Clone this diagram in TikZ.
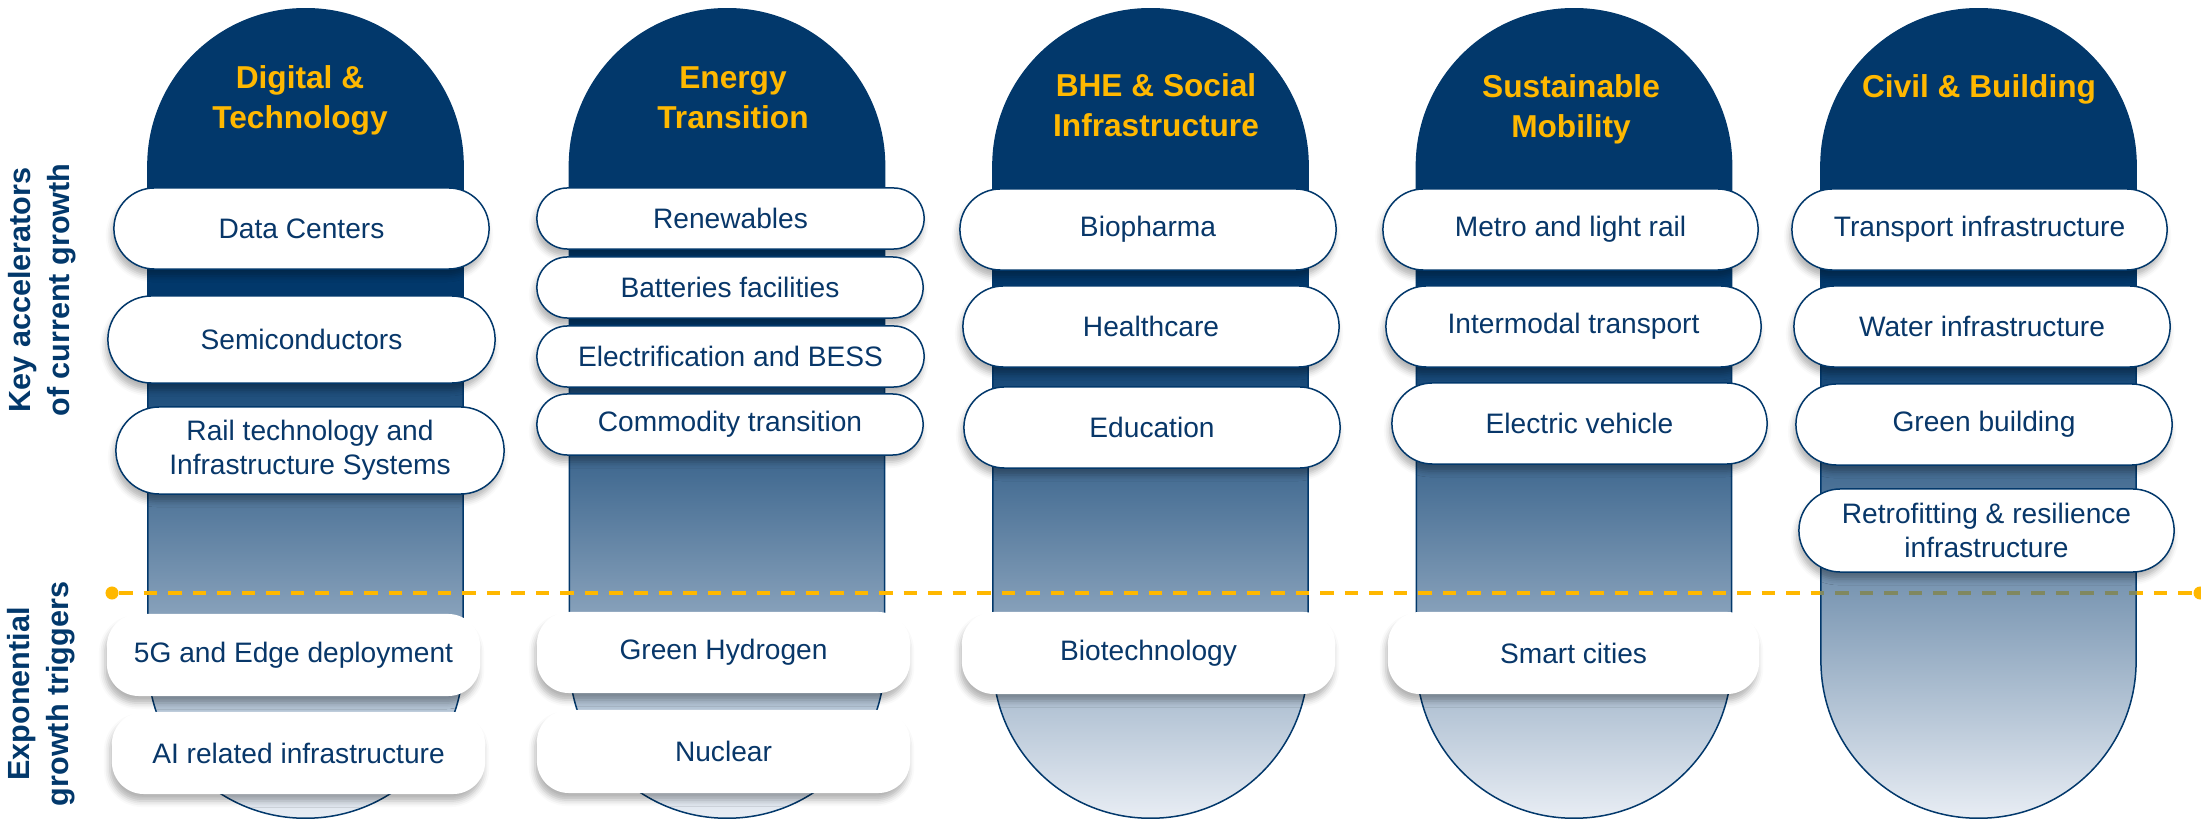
\documentclass[tikz,border=0pt]{standalone}
\usepackage{fontspec}
\setmainfont{Liberation Sans}
\usetikzlibrary{shapes.misc,shadows.blur}

\definecolor{navy}{RGB}{2,56,107}
\definecolor{pilltext}{RGB}{8,55,105}
\definecolor{gold}{RGB}{255,184,0}
\definecolor{collight}{RGB}{232,237,244}
\definecolor{olivedash}{RGB}{128,136,96}

\pgfdeclareverticalshading{colshade}{100bp}{color(0bp)=(collight); color(25bp)=(collight); color(55bp)=(navy); color(100bp)=(navy)}

\tikzset{
  column/.style={draw=navy, line width=0.015cm, shading=colshade, rounded corners=1.57cm,
    minimum width=3.15cm, minimum height=8.09cm, inner sep=0pt},
  pill/.style={rounded rectangle, draw=navy, line width=0.015cm, fill=white, text=pilltext,
    font=\fontsize{8}{9.6}\selectfont, align=center, inner sep=0pt,
    blur shadow={shadow xshift=-0.02cm, shadow yshift=-0.07cm, shadow blur radius=0.06cm, shadow opacity=30}},
  trigger/.style={rectangle, rounded corners=0.32cm, fill=white, text=pilltext,
    font=\fontsize{8}{9.6}\selectfont, align=center, inner sep=0pt,
    blur shadow={shadow xshift=-0.02cm, shadow yshift=-0.07cm, shadow blur radius=0.06cm, shadow opacity=30}},
  title/.style={text=gold, font=\bfseries\fontsize{9}{11.4}\selectfont, align=center},
  side/.style={text=navy, font=\bfseries\fontsize{8.7}{11.1}\selectfont, align=center, rotate=90},
  divider/.style={draw=gold, line width=0.045cm, dash pattern=on 0.135cm off 0.11cm},
  dot/.style={circle, fill=gold, inner sep=0pt, minimum size=0.13cm}
}

\begin{document}
\begin{tikzpicture}[x=0.01cm,y=-0.01cm]
    \useasboundingbox (0,0) rectangle (2201,819);

    % columns
    \node[column] (digital) at (305.5,413.5) {};
    \node[column] (energy) at (727,413.5) {};
    \node[column] (social) at (1150.5,413.5) {};
    \node[column] (mobility) at (1574,413.5) {};
    \node[column] (civil) at (1978.5,413.5) {};

    % divider between the two rows
    \node[dot] (dotL) at (112,593) {};
    \node[dot] (dotR) at (2200,593) {};
    \draw[divider] (dotL) -- (dotR);
    \begin{scope}
        \clip[rounded corners=1.57cm] (civil.north west) rectangle (civil.south east);
        \draw[divider, draw=olivedash] (dotL) -- (dotR);
    \end{scope}

    % Digital & Technology
    \node[pill, minimum width=3.75cm, minimum height=0.81cm] (dc) at (301.5,228.5) {Data Centers};
    \node[pill, minimum width=3.87cm, minimum height=0.87cm] (semi) at (301.5,339.5) {Semiconductors};
    \node[pill, minimum width=3.88cm, minimum height=0.87cm] (rail) at (310,450.5) {Rail technology and\\Infrastructure Systems};
    \node[trigger, minimum width=3.73cm, minimum height=0.82cm] (fiveg) at (293.5,655) {5G and Edge deployment};
    \node[trigger, minimum width=3.73cm, minimum height=0.82cm] (ai) at (298.5,753) {AI related infrastructure};

    % Energy Transition
    \node[pill, minimum width=3.87cm, minimum height=0.61cm] (renew) at (730.5,218.5) {Renewables};
    \node[pill, minimum width=3.86cm, minimum height=0.61cm] (batt) at (730,287.5) {Batteries facilities};
    \node[pill, minimum width=3.87cm, minimum height=0.61cm] (elec) at (730.5,356.5) {Electrification and BESS};
    \node[pill, minimum width=3.86cm, minimum height=0.61cm] (commod) at (730,424.5) {Commodity transition};
    \node[trigger, minimum width=3.73cm, minimum height=0.81cm] (hydro) at (723.5,652.5) {Green Hydrogen};
    \node[trigger, minimum width=3.73cm, minimum height=0.83cm] (nuclear) at (723.5,751.5) {Nuclear};

    % BHE & Social Infrastructure
    \node[pill, minimum width=3.76cm, minimum height=0.81cm] (bio) at (1148,229.5) {Biopharma};
    \node[pill, minimum width=3.76cm, minimum height=0.81cm] (health) at (1151,326.5) {Healthcare};
    \node[pill, minimum width=3.76cm, minimum height=0.81cm] (edu) at (1152,427.5) {Education};
    \node[trigger, minimum width=3.73cm, minimum height=0.82cm] (biotech) at (1148.5,653) {Biotechnology};

    % Sustainable Mobility
    \node[pill, minimum width=3.75cm, minimum height=0.81cm] (metro) at (1570.5,229.5) {Metro and light rail};
    \node[pill, minimum width=3.75cm, minimum height=0.81cm] (intermodal) at (1573.5,326.5) {Intermodal transport};
    \node[pill, minimum width=3.75cm, minimum height=0.81cm] (ev) at (1579.5,423.5) {Electric vehicle};
    \node[trigger, minimum width=3.71cm, minimum height=0.82cm] (smart) at (1573.5,653) {Smart cities};

    % Civil & Building
    \node[pill, minimum width=3.75cm, minimum height=0.81cm] (transport) at (1979.5,229.5) {Transport infrastructure};
    \node[pill, minimum width=3.76cm, minimum height=0.81cm] (water) at (1982,326.5) {Water infrastructure};
    \node[pill, minimum width=3.76cm, minimum height=0.81cm] (green) at (1984,424.5) {Green building};
    \node[pill, minimum width=3.75cm, minimum height=0.83cm] (retro) at (1986.5,530.5) {Retrofitting \& resilience\\infrastructure};

    % titles
    \node[title] (tDigital) at (300,100) {Digital \&\\Technology};
    \node[title] (tEnergy) at (733,98) {Energy\\Transition};
    \node[title] (tSocial) at (1156,105) {BHE \& Social\\Infrastructure};
    \node[title] (tMobility) at (1571,109) {Sustainable\\Mobility};
    \node[title] (tCivil) at (1979,89) {Civil \& Building};

    % row labels
    \node[side] (keyAcc) at (42,290) {Key accelerators\\of current growth};
    \node[side] (expTrig) at (41,694) {Exponential\\growth triggers};
\end{tikzpicture}
\end{document}
